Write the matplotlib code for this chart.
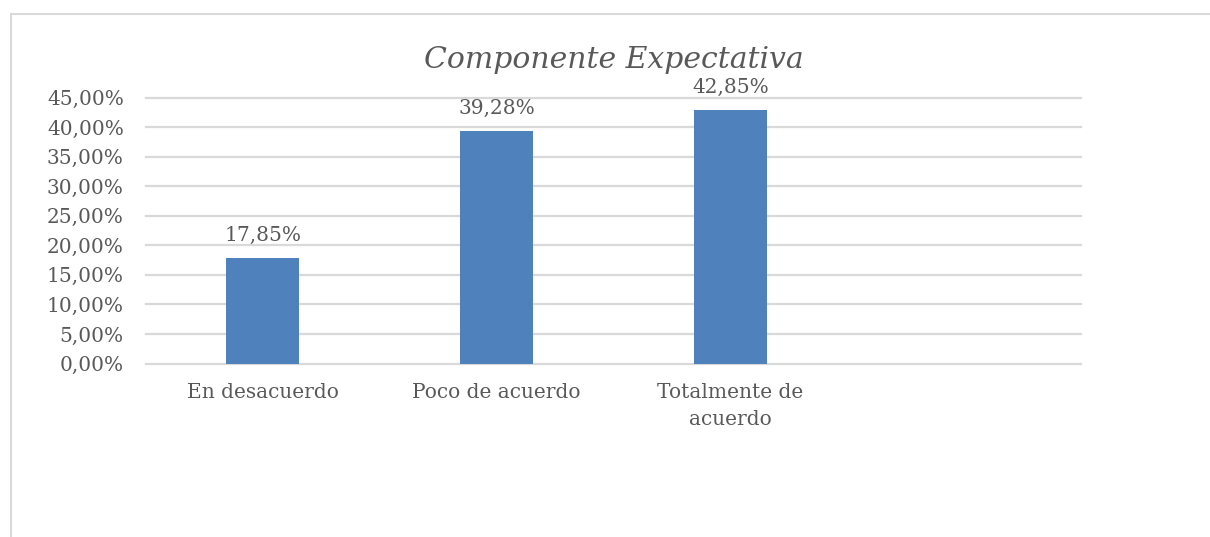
import matplotlib.pyplot as plt
from matplotlib.lines import Line2D

# --- data ---
categories = ["En desacuerdo", "Poco de acuerdo", "Totalmente de\nacuerdo", ""]
values = [17.85, 39.28, 42.85, None]
labels = ["17,85%", "39,28%", "42,85%"]
yticks = [0, 5, 10, 15, 20, 25, 30, 35, 40, 45]
ytick_labels = ["0,00%", "5,00%", "10,00%", "15,00%", "20,00%", "25,00%",
                "30,00%", "35,00%", "40,00%", "45,00%"]

bar_color = "#4F81BD"
text_color = "#595959"
grid_color = "#D9D9D9"

plt.rcParams["font.family"] = ["DejaVu Serif"]

fig = plt.figure(figsize=(12.10, 5.37), dpi=100)
ax = fig.add_axes([146 / 1210, 1 - 363.5 / 537, 935 / 1210, 266 / 537])

x = list(range(len(categories)))
heights = [v if v is not None else 0 for v in values]
bars = ax.bar(x[:3], heights[:3], width=0.312, color=bar_color, zorder=3)

for b, lab in zip(bars, labels):
    ax.annotate(lab, (b.get_x() + b.get_width() / 2, b.get_height()),
                xytext=(0, 9.5), textcoords="offset points",
                ha="center", va="bottom", fontsize=14.5, color=text_color)

ax.set_xlim(-0.5, len(categories) - 0.5)
ax.set_ylim(0, 45)
ax.set_yticks(yticks)
ax.set_yticklabels(ytick_labels, fontsize=14.5, color=text_color)
ax.set_xticks(x)
ax.set_xticklabels(categories, fontsize=14.5, color=text_color, linespacing=1.55)
ax.tick_params(axis="y", length=0, pad=16)
ax.tick_params(axis="x", length=0, pad=14)

ax.yaxis.grid(True, color=grid_color, linewidth=1.6, zorder=0)
for gl in ax.get_ygridlines():
    gl.set_clip_on(False)
ax.set_axisbelow(True)
for s in ax.spines.values():
    s.set_visible(False)

ax.set_title("Componente Expectativa", fontsize=21.5, style="italic",
             color=text_color, pad=21)

# chart area frame (runs off the right and bottom edges)
fig.add_artist(Line2D([10.5 / 1210, 10.5 / 1210], [0, 1 - 13.5 / 537],
                      color=grid_color, linewidth=1.5, transform=fig.transFigure))
fig.add_artist(Line2D([10.5 / 1210, 1], [1 - 13.5 / 537, 1 - 13.5 / 537],
                      color=grid_color, linewidth=1.5, transform=fig.transFigure))

plt.savefig("out.png", dpi=100)
